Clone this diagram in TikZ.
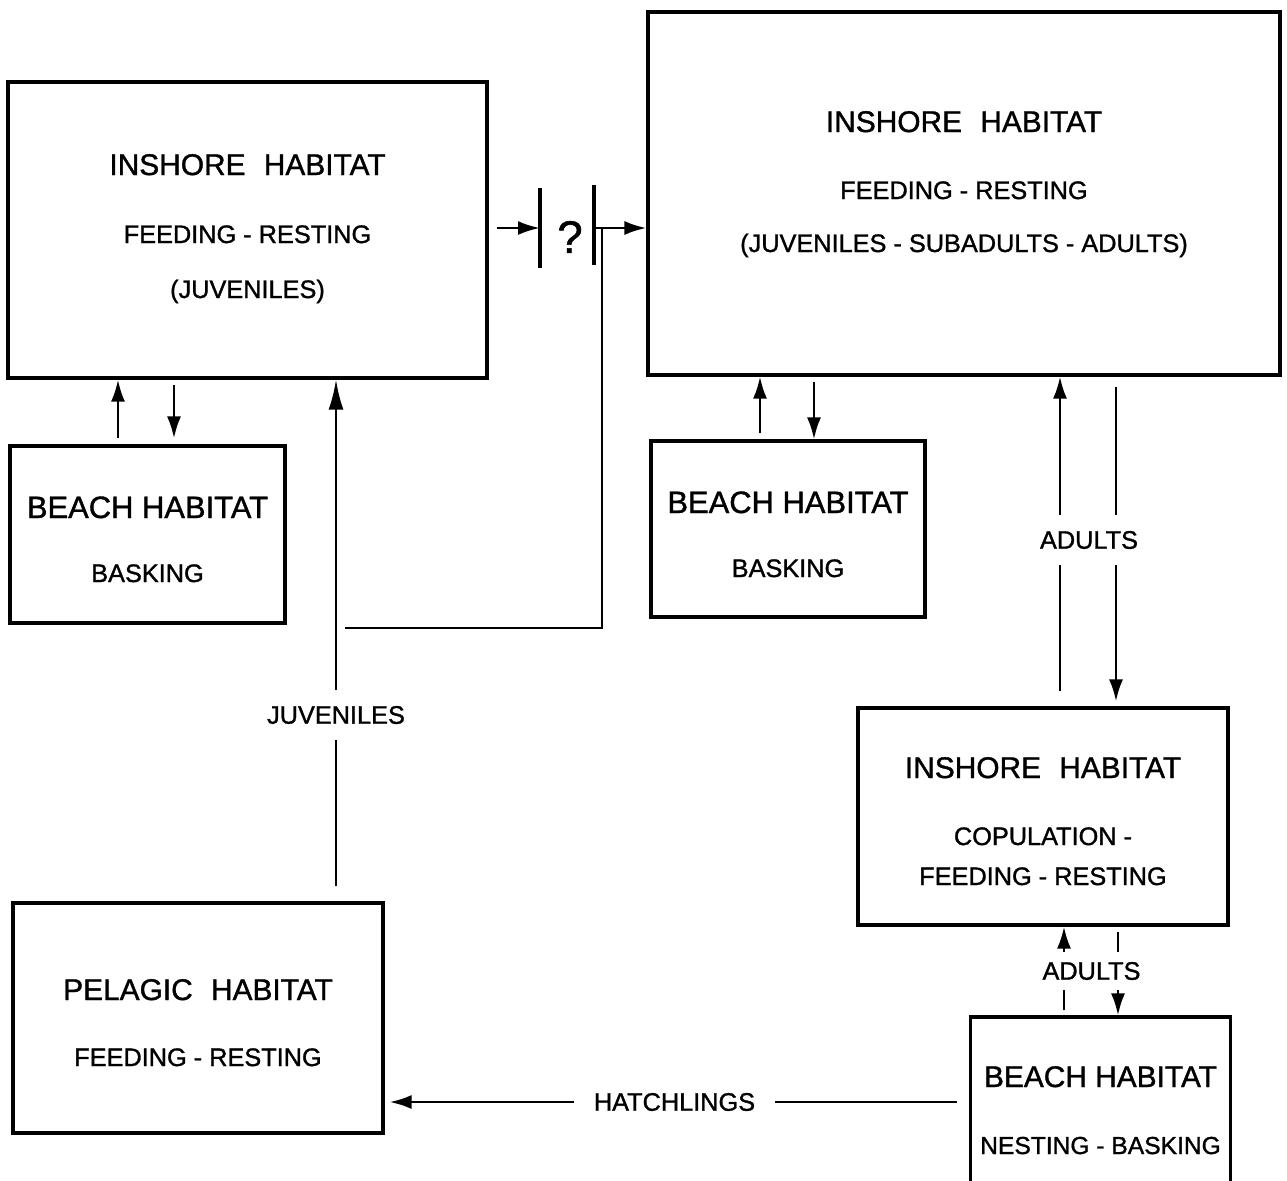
\documentclass[tikz,border=0pt]{standalone}
\usepackage{fontspec}
\setmainfont{Liberation Sans}[FakeBold=1.2]
\usetikzlibrary{arrows.meta}

\tikzset{
  caja/.style={draw, line width=0.9pt, inner sep=0pt},
  tit/.style={anchor=base, inner sep=0pt, font=\fontsize{8.5}{10}\selectfont},
  sub/.style={anchor=base, inner sep=0pt, font=\fontsize{7.2}{9}\selectfont},
  etiq/.style={fill=white, inner xsep=1.5mm, inner ysep=1.6mm, font=\fontsize{7.2}{9}\selectfont},
  flecha/.style={-{Latex[length=2.2mm,width=1.4mm]}, line width=0.75pt},
  linea/.style={line width=0.75pt}
}
\newcommand{\dsp}{\hspace{1mm} }

\begin{document}
\begin{tikzpicture}
    \useasboundingbox (0,0) rectangle (12.87,-11.80);

    %Cajas
    \node[caja, minimum width=4.79cm, minimum height=2.96cm] (inshoreJuv) at (2.475,-2.30) {};
    \node[caja, minimum width=2.75cm, minimum height=1.77cm] (beachL) at (1.475,-5.345) {};
    \node[caja, minimum width=6.32cm, minimum height=3.63cm] (inshoreAll) at (9.64,-1.935) {};
    \node[caja, minimum width=2.74cm, minimum height=1.76cm] (beachM) at (7.88,-5.29) {};
    \node[caja, minimum width=3.70cm, minimum height=2.17cm] (inshoreCop) at (10.43,-8.165) {};
    \node[caja, minimum width=3.70cm, minimum height=2.30cm] (pelagic) at (1.98,-10.18) {};
    %la ultima caja sale por abajo
    \node[caja, minimum width=2.60cm, minimum height=2.00cm] (beachNest) at (11.005,-11.17) {};

    %Textos
    \node[tit] (t1) at (2.475,-1.75) {INSHORE\dsp HABITAT};
    \node[sub] (s1) at (2.475,-2.43) {FEEDING - RESTING};
    \node[sub] (s1b) at (2.475,-2.98) {(JUVENILES)};

    \node[tit, font=\fontsize{8.8}{10}\selectfont] (t2) at (1.475,-5.18) {BEACH HABITAT};
    \node[sub] (s2) at (1.475,-5.82) {BASKING};

    \node[tit] (t3) at (9.64,-1.32) {INSHORE\dsp HABITAT};
    \node[sub] (s3) at (9.64,-1.99) {FEEDING - RESTING};
    \node[sub] (s3b) at (9.64,-2.52) {(JUVENILES - SUBADULTS - ADULTS)};

    \node[tit, font=\fontsize{8.8}{10}\selectfont] (t4) at (7.88,-5.13) {BEACH HABITAT};
    \node[sub] (s4) at (7.88,-5.77) {BASKING};

    \node[tit] (t5) at (10.43,-7.78) {INSHORE\dsp HABITAT};
    \node[sub] (s5) at (10.43,-8.45) {COPULATION -};
    \node[sub] (s5b) at (10.43,-8.85) {FEEDING - RESTING};

    \node[tit] (t6) at (1.98,-10.00) {PELAGIC\dsp HABITAT};
    \node[sub] (s6) at (1.98,-10.66) {FEEDING - RESTING};

    \node[tit] (t7) at (11.005,-10.87) {BEACH HABITAT};
    \node[sub, font=\fontsize{7}{9}\selectfont] (s7) at (11.005,-11.54) {NESTING - BASKING};

    %Columnas de las flechas
    \coordinate (c1) at (1.18,0);
    \coordinate (c2) at (1.74,0);
    \coordinate (c3) at (7.60,0);
    \coordinate (c4) at (8.14,0);
    \coordinate (c5) at (10.60,0);
    \coordinate (c6) at (11.16,0);
    \coordinate (c7) at (10.64,0);
    \coordinate (c8) at (11.18,0);
    \coordinate (c9) at (3.36,0);
    \coordinate (fh) at (0,-11.02);

    %Playa - costa (izquierda)
    \draw[flecha, shorten <=0.6mm] (beachL.north -| c1) -- (inshoreJuv.south -| c1);
    \draw[flecha, shorten <=0.5mm, shorten >=0.6mm] (inshoreJuv.south -| c2) -- (beachL.north -| c2);

    %Playa - costa (centro)
    \draw[flecha, shorten <=0.6mm] (beachM.north -| c3) -- (inshoreAll.south -| c3);
    \draw[flecha, shorten <=0.5mm] (inshoreAll.south -| c4) -- (beachM.north -| c4);

    %Adultos
    \draw[flecha, shorten <=1.5mm] (inshoreCop.north -| c5) -- (inshoreAll.south -| c5);
    \draw[flecha, shorten <=1mm, shorten >=0.5mm] (inshoreAll.south -| c6) -- (inshoreCop.north -| c6);
    \node[etiq] (ad1) at (10.89,-5.40) {ADULTS};

    \draw[flecha, shorten <=0.5mm] (beachNest.north -| c7) -- (inshoreCop.south -| c7);
    \draw[flecha, shorten <=0.5mm] (inshoreCop.south -| c8) -- (beachNest.north -| c8);
    \node[etiq, inner ysep=1.0mm] (ad2) at (10.915,-9.71) {ADULTS};

    %Juveniles
    \draw[flecha, -{Latex[length=3mm,width=1.5mm]}, shorten <=1.5mm] (pelagic.north -| c9) -- (inshoreJuv.south -| c9);
    \node[etiq] (juv) at (3.36,-7.15) {JUVENILES};

    %Crias
    \draw[flecha, shorten <=1.2mm, shorten >=0.5mm] (beachNest.west |- fh) -- (pelagic.east |- fh);
    \node[etiq, inner xsep=2mm] (cri) at (6.745,-11.02) {HATCHLINGS};

    %La pregunta
    \coordinate (b1) at (5.40,-2.28);
    \coordinate (b2) at (5.94,-2.25);
    \coordinate (b3) at (6.02,-2.28);
    \coordinate (jv) at (3.45,-6.28);
    \draw[flecha, shorten <=0.8mm] (inshoreJuv.east |- b1) -- (b1);
    \draw[line width=0.9pt] ([yshift=4mm]b1) -- ([yshift=-4mm]b1);
    \draw[line width=0.9pt] ([yshift=4mm]b2) -- ([yshift=-4mm]b2);
    \node[font=\fontsize{13}{15}\selectfont] (preg) at (5.70,-2.37) {?};
    \draw[linea] (jv) -| (b3);
    \draw[flecha] (b2 |- b1) -- (inshoreAll.west |- b1);
\end{tikzpicture}
\end{document}
